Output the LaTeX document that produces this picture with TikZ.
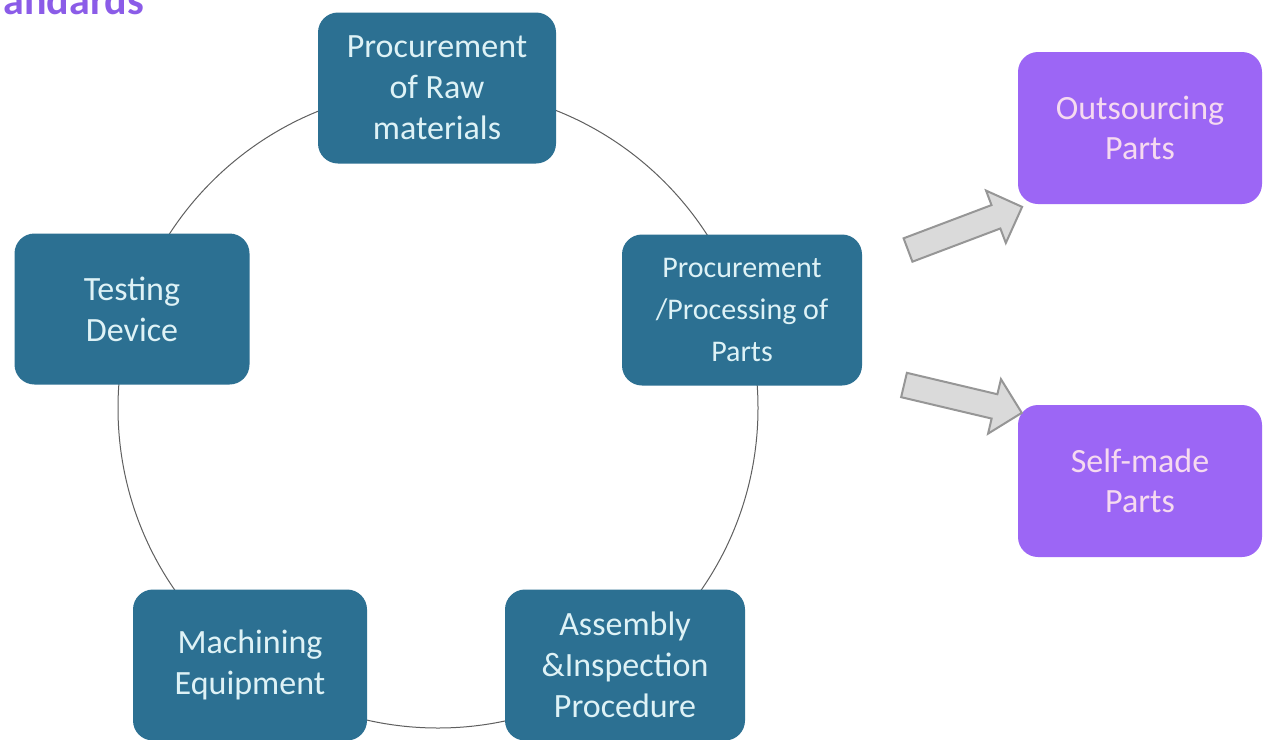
\documentclass[tikz,border=0pt]{standalone}
\usepackage{fontspec}
\setmainfont{Carlito}
\definecolor{boxteal}{RGB}{44,112,146}
\definecolor{tealtext}{RGB}{222,242,246}
\definecolor{boxpurple}{RGB}{156,102,245}
\definecolor{purpletext}{RGB}{246,218,240}
\definecolor{titlepurple}{RGB}{139,92,232}
\definecolor{arrowfill}{RGB}{218,218,218}
\definecolor{arrowline}{RGB}{150,150,150}
\definecolor{ringline}{RGB}{95,95,95}
\tikzset{
  stagebox/.style={fill=boxteal, text=tealtext, rounded corners=20pt,
    minimum width=238pt, minimum height=151pt, align=center, inner sep=0pt,
    font=\fontsize{34}{41}\selectfont},
  outbox/.style={fill=boxpurple, text=purpletext, rounded corners=20pt,
    minimum width=244pt, minimum height=152pt, align=center, inner sep=0pt,
    font=\fontsize{34}{40}\selectfont},
  blockarrow/.style={draw=arrowline, fill=arrowfill, line width=2pt, line join=miter},
  ring/.style={draw=ringline, line width=1pt}
}
\begin{document}
\begin{tikzpicture}[x=1pt, y=-1pt]
\useasboundingbox (0,0) rectangle (1263,739);
\fill[white] (0,0) rectangle (1263,739);

% ring connecting the stages
\draw[ring] (438,408) circle[radius=320pt];

\node[anchor=base west, text=titlepurple, font=\bfseries\fontsize{42}{48}\selectfont] (title) at (0,14) {andards};

\node[stagebox] (raw) at (437,88) {Procurement\\of Raw\\materials};
\node[stagebox, minimum width=240pt, font=\fontsize{30}{42}\selectfont] (parts) at (742,310) {Procurement\\/Processing of\\Parts};
\node[stagebox, minimum width=240pt] (assembly) at (625,665) {Assembly\\\&Inspection\\Procedure};
\node[stagebox, minimum width=234pt] (machining) at (250,665) {Machining\\Equipment};
\node[stagebox, minimum width=235pt] (testing) at (132,309) {Testing\\Device};

\node[outbox] (outsourcing) at (1140,128) {Outsourcing\\Parts};
\node[outbox] (selfmade) at (1140,481) {Self-made\\Parts};

% block arrows
\begin{scope}[shift={(908,250)}, rotate=20.7]
  \draw[blockarrow] (0,12.5) -- (94,12.5) -- (94,28) -- (122,0) -- (94,-28) -- (94,-12.5) -- (0,-12.5) -- cycle;
\end{scope}
\begin{scope}[shift={(904,385)}, rotate=-13.3]
  \draw[blockarrow] (0,12.5) -- (93,12.5) -- (93,28) -- (121,0) -- (93,-28) -- (93,-12.5) -- (0,-12.5) -- cycle;
\end{scope}
\end{tikzpicture}
\end{document}
